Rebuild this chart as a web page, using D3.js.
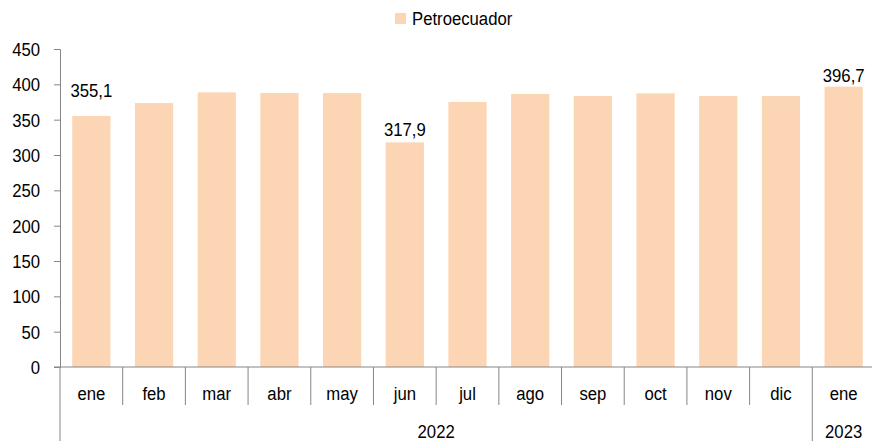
<!DOCTYPE html>
<html>
<head>
<meta charset="utf-8">
<script src="https://cdn.jsdelivr.net/npm/d3@7"></script>
<style>
  body { margin: 0; background: #fff; }
  svg text { font-family: "Liberation Sans", Arial, sans-serif; fill: #000; }
</style>
</head>
<body>
<div id="chart-area"></div>
<script>
// data
var months = ["ene", "feb", "mar", "abr", "may", "jun", "jul", "ago", "sep", "oct", "nov", "dic", "ene"];
var years = ["2022", "2022", "2022", "2022", "2022", "2022", "2022", "2022", "2022", "2022", "2022", "2022", "2023"];
var petroecuador = [355.1, 373.5, 388.6, 387.7, 387.6, 317.9, 375.0, 386.3, 383.5, 387.2, 383.5, 383.4, 396.7];
var labelIdx = [0, 5, 12];
var labelText = ["355,1", "317,9", "396,7"];
var yTicks = [0, 50, 100, 150, 200, 250, 300, 350, 400, 450];

var W = 872, H = 441;
var mLeft = 60, mRight = 875, mTop = 49, mBottom = 367;
var fs = "19px";
var squeeze = 0.88;   // narrow look of the original font

var svg = d3.select("#chart-area").append("svg")
            .attr("width", W)
            .attr("height", H);

// put a text at (px,py) squeezed horizontally
function place(t, px, py) {
  t.attr("x", 0).attr("y", 0)
   .attr("transform", "translate(" + px + "," + py + ") scale(" + squeeze + ",1)");
  return t;
}

var keys = months.map((d, i) => i);

var x = d3.scaleBand()
          .domain(keys)
          .range([mLeft, mRight])
          .paddingInner(0.39)
          .paddingOuter(0.195);

var y = d3.scaleLinear()
          .domain([0, 450])
          .range([mBottom, mTop]);

var axisColor = "#868686";

// y axis
var yAxis = svg.append("g")
               .attr("transform", "translate(" + mLeft + ",0)")
               .call(d3.axisLeft(y).tickValues(yTicks).tickSize(6).tickPadding(14));
yAxis.attr("font-family", null).attr("font-size", null);
yAxis.select(".domain").attr("stroke", axisColor);
yAxis.selectAll(".tick line").attr("stroke", axisColor);
yAxis.selectAll(".tick text")
     .attr("font-size", fs)
     .attr("fill", "#000")
     .attr("dy", "0.35em")
     .each(function() { place(d3.select(this), -20, 0); });

// bars
svg.selectAll("rect.bar")
   .data(petroecuador)
   .enter()
   .append("rect")
     .attr("class", "bar")
     .attr("x", (d, i) => x(i))
     .attr("y", (d) => y(d))
     .attr("width", x.bandwidth())
     .attr("height", (d) => mBottom - y(d))
     .attr("fill", "#FCD5B4");

// x axis line
svg.append("line")
   .attr("x1", mLeft - 6).attr("x2", mRight)
   .attr("y1", mBottom).attr("y2", mBottom)
   .attr("stroke", axisColor);

var step = x.step();
var x0 = mLeft;

// category separators
keys.forEach((k, i) => {
  var bx = x0 + step * i;
  var newYear = i === 0 || years[i] !== years[i - 1];
  svg.append("line")
     .attr("x1", bx).attr("x2", bx)
     .attr("y1", mBottom).attr("y2", newYear ? H : mBottom + 38)
     .attr("stroke", axisColor);
});

// month labels
months.forEach((m, i) => {
  var t = svg.append("text")
             .attr("text-anchor", "middle")
             .attr("font-size", fs)
             .text(m);
  place(t, x(i) + x.bandwidth() / 2, mBottom + 33);
});

// year labels
var yearNames = Array.from(new Set(years));
yearNames.forEach((yr) => {
  var idx = keys.filter((i) => years[i] === yr);
  var a = x0 + step * idx[0];
  var b = x0 + step * (idx[idx.length - 1] + 1);
  var t = svg.append("text")
             .attr("text-anchor", "middle")
             .attr("font-size", fs)
             .text(yr);
  place(t, (a + b) / 2, H - 3);
});

// data labels
var labelGap = [19, 6, 5];
labelIdx.forEach((k, j) => {
  var t = svg.append("text")
             .attr("text-anchor", "middle")
             .attr("font-size", fs)
             .text(labelText[j]);
  place(t, x(k) + x.bandwidth() / 2, y(petroecuador[k]) - labelGap[j]);
});

// legend
var lg = svg.append("g").attr("transform", "translate(395,13)");
lg.append("rect").attr("width", 11).attr("height", 11).attr("fill", "#FCD5B4");
var lt = lg.append("text")
           .attr("font-size", fs)
           .text("Petroecuador");
place(lt, 17, 12);
</script>
</body>
</html>
